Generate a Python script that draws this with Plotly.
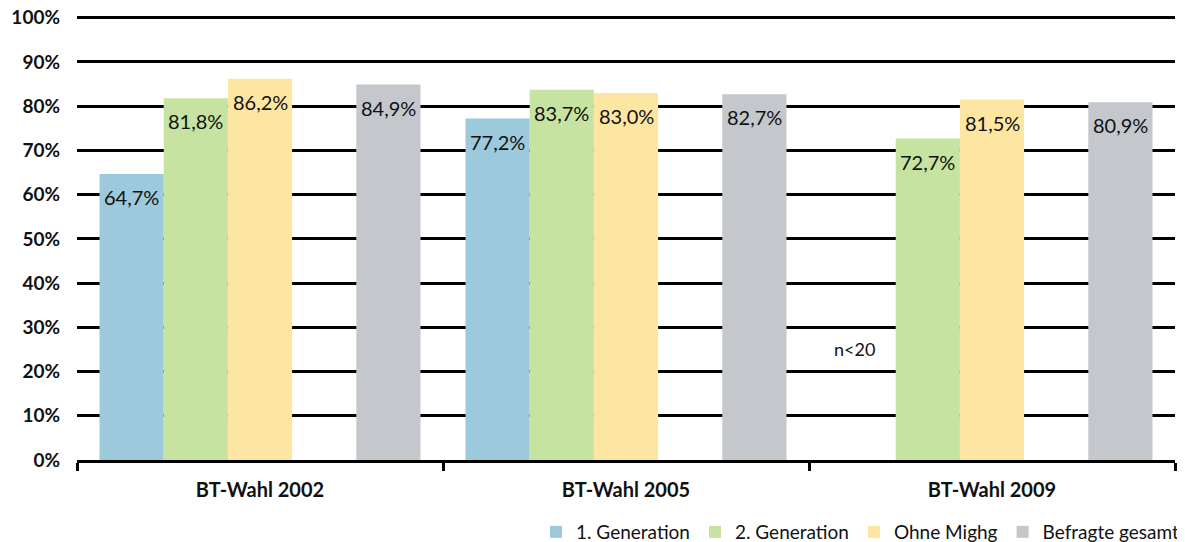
import plotly.graph_objects as go

categories = ["BT-Wahl 2002", "BT-Wahl 2005", "BT-Wahl 2009"]
gen1 = [64.7, 77.2, None]
gen2 = [81.8, 83.7, 72.7]
ohne = [86.2, 83.0, 81.5]
gesamt = [84.9, 82.7, 80.9]
series_names = ["1. Generation", "2. Generation", "Ohne Mighg", "Befragte gesamt"]
colors = ["#9DC9DC", "#C7E3A1", "#FDE6A1", "#C4C7CB"]
y_ticks = list(range(0, 101, 10))

FONT = "Lato"
BARGAP = 0.123
NSLOTS = 5
W, H = 1177, 534  # page body has an 8px margin

def fmt(v):
    return ("%.1f%%" % v).replace(".", ",")

fig = go.Figure()
series_vals = [gen1, gen2, ohne, None, gesamt]
ci = 0
slot_w = (1 - BARGAP) / NSLOTS
for slot, vals in enumerate(series_vals):
    if vals is None:
        fig.add_trace(go.Bar(x=categories, y=[None, None, None], showlegend=False,
                             hoverinfo="skip", marker_color="rgba(0,0,0,0)"))
        continue
    fig.add_trace(go.Bar(
        x=categories, y=vals, name=series_names[ci],
        marker=dict(color=colors[ci], line=dict(width=0)),
    ))
    for gi, v in enumerate(vals):
        if v is None:
            continue
        fig.add_annotation(x=gi + (slot - (NSLOTS - 1) / 2) * slot_w, y=v,
                           xref="x", yref="y", text=fmt(v), showarrow=False,
                           yshift=-23, yanchor="middle",
                           font=dict(size=20, color="#111111", family=FONT))
    ci += 1

fig.add_annotation(x=2 + (0 - (NSLOTS - 1) / 2) * slot_w, y=25, xref="x", yref="y",
                   text="n<20", showarrow=False, xshift=-9,
                   font=dict(size=18, color="#111111", family=FONT))

fig.update_layout(
    width=W, height=H,
    margin=dict(l=69, r=10, t=8, b=82),
    barmode="group", bargap=BARGAP, bargroupgap=0,
    plot_bgcolor="white", paper_bgcolor="white",
    font=dict(family=FONT, color="#111111"),
    legend=dict(orientation="h", x=1.0, xanchor="right", xref="container",
                y=10 / H, yanchor="middle", yref="container",
                font=dict(size=19, family=FONT), traceorder="normal",
                itemwidth=30),
    xaxis=dict(showline=True, linecolor="black", linewidth=3,
               ticks="outside", tickson="boundaries", ticklen=8, tickwidth=3,
               tickcolor="black", automargin=False, ticklabelstandoff=10,
               tickfont=dict(size=20, family=FONT, weight="bold"),
               showgrid=False),
    yaxis=dict(range=[0, 100.4], tickvals=y_ticks, ticktext=[f"{v}%" for v in y_ticks],
               showgrid=True, gridcolor="black", gridwidth=2.5,
               zeroline=False, ticks="", ticklabelstandoff=16, automargin=False,
               ticklabeloverflow="allow",
               tickfont=dict(size=19, family=FONT, weight="bold")),
)

fig.write_html("out.html")
